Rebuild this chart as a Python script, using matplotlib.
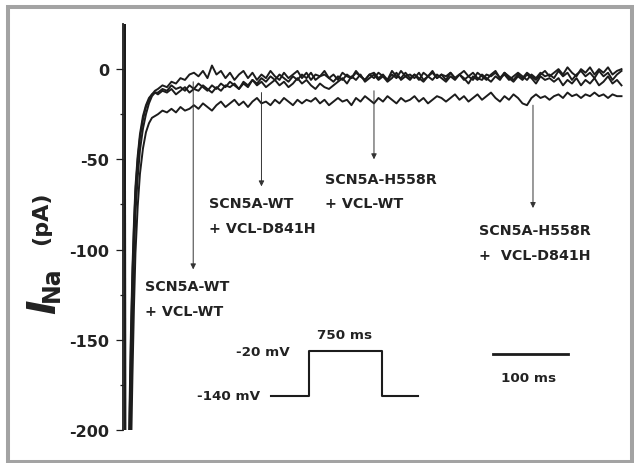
import numpy as np
import matplotlib
matplotlib.use("Agg")
import matplotlib.pyplot as plt
from matplotlib.patches import Rectangle

# figure size in pixels
W, H = 634, 464

# time base (ms): fast rise, then the slow plateau
t_rise = [0, 0.5, 2, 4, 6, 8, 10, 12, 14, 17, 20, 24, 28, 32, 36, 40]
t_plat = np.arange(44, 667, 6)

# current traces (pA)
rise_a = [25, -400, -330, -260, -200, -150, -115, -88, -68, -50, -38, -28, -21, -17, -14, -12]
rise_b = [25, -400, -360, -300, -235, -180, -138, -105, -80, -60, -45, -33, -25, -19, -15, -13]
rise_c = [25, -400, -310, -245, -190, -145, -110, -85, -65, -48, -36, -26, -20, -16, -14, -13]
rise_d = [25, -400, -380, -330, -270, -215, -170, -132, -102, -76, -58, -44, -35, -30, -27, -26]

plat_a = [-11, -9, -10, -7, -8, -5, -6, -3,
          -2, -4, -1, -5, 2, -3, -1, -5,
          -2, -6, -3, -1, -5, -2, -6, -3,
          -5, -1, -4, -6, -2, -5, -3, -1,
          -5, -2, -6, -3, -4, -1, -5, -3,
          -6, -2, -4, -5, -1, -4, -6, -3,
          -2, -5, -3, -6, -1, -4, -5, -2,
          -5, -3, -6, -2, -4, -1, -5, -3,
          -6, -2, -5, -3, -1, -4, -6, -2,
          -4, -6, -3, -1, -5, -2, -4, -6,
          -3, -5, -2, -4, -6, -3, -1, -4,
          -2, 0, -3, 1, -2, -4, 0, -2,
          1, -3, 0, -2, 1, -3, -1, 0]
plat_b = [-13, -11, -12, -9, -11, -10, -12, -9,
          -11, -8, -10, -12, -9, -11, -8, -10,
          -7, -9, -11, -8, -10, -6, -9, -7,
          -10, -8, -6, -9, -7, -10, -8, -5,
          -8, -6, -9, -11, -8, -10, -11, -9,
          -7, -5, -8, -4, -6, -3, -7, -5,
          -3, -6, -4, -7, -5, -2, -6, -4,
          -6, -3, -5, -7, -4, -6, -3, -5,
          -7, -4, -6, -3, -5, -8, -4, -6,
          -3, -5, -7, -4, -6, -2, -5, -7,
          -4, -6, -3, -5, -8, -4, -6, -5,
          -7, -5, -9, -6, -8, -5, -9, -6,
          -8, -5, -9, -7, -4, -8, -6, -9]
plat_c = [-14, -12, -13, -11, -14, -12, -10, -13,
          -11, -12, -9, -11, -13, -10, -12, -9,
          -10, -8, -11, -7, -9, -6, -8, -5,
          -7, -4, -6, -3, -5, -7, -4, -6,
          -3, -5, -2, -6, -4, -3, -5, -7,
          -4, -6, -3, -5, -2, -4, -6, -3,
          -5, -2, -4, -6, -3, -5, -1, -4,
          -3, -5, -2, -6, -4, -2, -5, -3,
          -4, -2, -5, -3, -6, -4, -2, -5,
          -6, -3, -4, -2, -5, -3, -6, -4,
          -2, -4, -6, -3, -5, -2, -4, -3,
          -5, -1, -4, -2, -6, -3, -1, -4,
          -2, -5, -1, -4, -2, -6, -3, -1]
plat_d = [-25, -23, -24, -22, -24, -21, -23, -22,
          -20, -22, -19, -21, -23, -20, -18, -21,
          -19, -17, -20, -18, -21, -18, -16, -19,
          -18, -20, -17, -19, -16, -18, -20, -17,
          -19, -17, -18, -16, -19, -17, -20, -18,
          -16, -18, -17, -20, -16, -18, -15, -17,
          -19, -16, -18, -15, -17, -19, -16, -18,
          -17, -15, -18, -16, -19, -17, -15, -16,
          -18, -16, -14, -17, -15, -18, -16, -14,
          -17, -15, -13, -16, -18, -15, -17, -14,
          -16, -19, -20, -16, -14, -16, -15, -17,
          -15, -14, -16, -13, -15, -14, -16, -14,
          -15, -13, -15, -14, -16, -14, -15, -15]

# labels and where their arrows sit (time ms, arrow top pA, arrow tip pA)
labels = [("SCN5A-WT", "+ VCL-WT"),
          ("SCN5A-WT", "+ VCL-D841H"),
          ("SCN5A-H558R", "+ VCL-WT"),
          ("SCN5A-H558R", "+  VCL-D841H")]
arrow_t = [91, 182, 332, 544]
arrow_top = [-7, -13, -12, -20]
arrow_tip = [-111, -65, -50, -77]
label_pos = [(27, -120, -134), (112, -74, -88), (267, -61, -74), (472, -89, -103)]

# voltage protocol inset
prot_t = [-400, 0, 0, 750, 750, 1125]
prot_v = [-140, -140, -20, -20, -140, -140]

# 100 ms scale bar
bar_t = [491, 591]
bar_i = [-158, -158]

yticks = [0, -50, -100, -150, -200]
ytick_labels = ["0", "-50", "-100", "-150", "-200"]


def px(x, y):
    return x / W, 1 - y / H


fig = plt.figure(figsize=(W / 100, H / 100), dpi=100)
fig.patch.set_facecolor("white")

# grey frame round the panel
fig.patches.append(Rectangle(px(8, 462.5), 624 / W, 454.5 / H, transform=fig.transFigure,
                             fill=False, edgecolor="#a3a3a3", linewidth=2.9))

ax = fig.add_axes([122.7 / W, 1 - 431 / H, 509.3 / W, 406 / H])
ax.set_xlim(-3, 676)
ax.set_ylim(-200, 25)

col = "#1c1c1c"
for rise, plat in [(rise_a, plat_a), (rise_b, plat_b), (rise_c, plat_c), (rise_d, plat_d)]:
    t = np.concatenate([t_rise, t_plat])
    y = np.concatenate([rise, plat])
    ax.plot(t, y, color=col, lw=1.4)

for i in range(4):
    ax.annotate("", xy=(arrow_t[i], arrow_tip[i]), xytext=(arrow_t[i], arrow_top[i]),
                arrowprops=dict(arrowstyle="-|>", lw=0.7, color="#333333",
                                mutation_scale=8, shrinkA=0, shrinkB=0))
    x0, y1, y2 = label_pos[i]
    ax.text(x0, y1, labels[i][0], fontsize=10.3, fontweight="bold", color="#222222",
            ha="left", va="center")
    ax.text(x0, y2, labels[i][1], fontsize=10.3, fontweight="bold", color="#222222",
            ha="left", va="center")

ax.plot(bar_t, bar_i, color=col, lw=2)
ax.text(538, -171, "100 ms", fontsize=9.7, fontweight="bold", color="#222222",
        ha="center", va="center")

for s in ["top", "right", "bottom"]:
    ax.spines[s].set_visible(False)
ax.spines["left"].set_linewidth(1.3)
ax.spines["left"].set_color(col)
ax.set_xticks([])
ax.set_yticks(yticks)
ax.set_yticklabels(ytick_labels, fontsize=11.5, fontweight="bold", color="#222222")
ax.set_yticks([-25, -75, -125, -175], minor=True)
ax.tick_params(axis="y", which="major", length=5, width=0.9, pad=4.8, color=col)
ax.tick_params(axis="y", which="minor", length=2.5, width=0.9, color=col)

# protocol inset
ins = fig.add_axes([270.7 / W, 1 - 396.7 / H, 147.6 / W, 45 / H])
ins.plot(prot_t, prot_v, color=col, lw=1.5, clip_on=False)
ins.set_xlim(-400, 1125)
ins.set_ylim(-140, -20)
ins.axis("off")

fig.text(*px(290, 352.7), "-20 mV", fontsize=9.7, fontweight="bold", color="#222222",
         ha="right", va="center")
fig.text(*px(260, 396.7), "-140 mV", fontsize=9.7, fontweight="bold", color="#222222",
         ha="right", va="center")
fig.text(*px(345, 336), "750 ms", fontsize=9.7, fontweight="bold", color="#222222",
         ha="center", va="center")

# y label: I_Na (pA)
fig.text(*px(44.5, 306.7), "I", fontsize=28, fontweight="bold", fontstyle="italic",
         rotation=90, ha="center", va="center", color="#222222")
fig.text(*px(51.6, 284), "Na", fontsize=17, fontweight="bold",
         rotation=90, ha="center", va="center", color="#222222")
fig.text(*px(41.5, 218.3), "(pA)", fontsize=16, fontweight="bold",
         rotation=90, ha="center", va="center", color="#222222")

fig.savefig("out.png", dpi=100)
